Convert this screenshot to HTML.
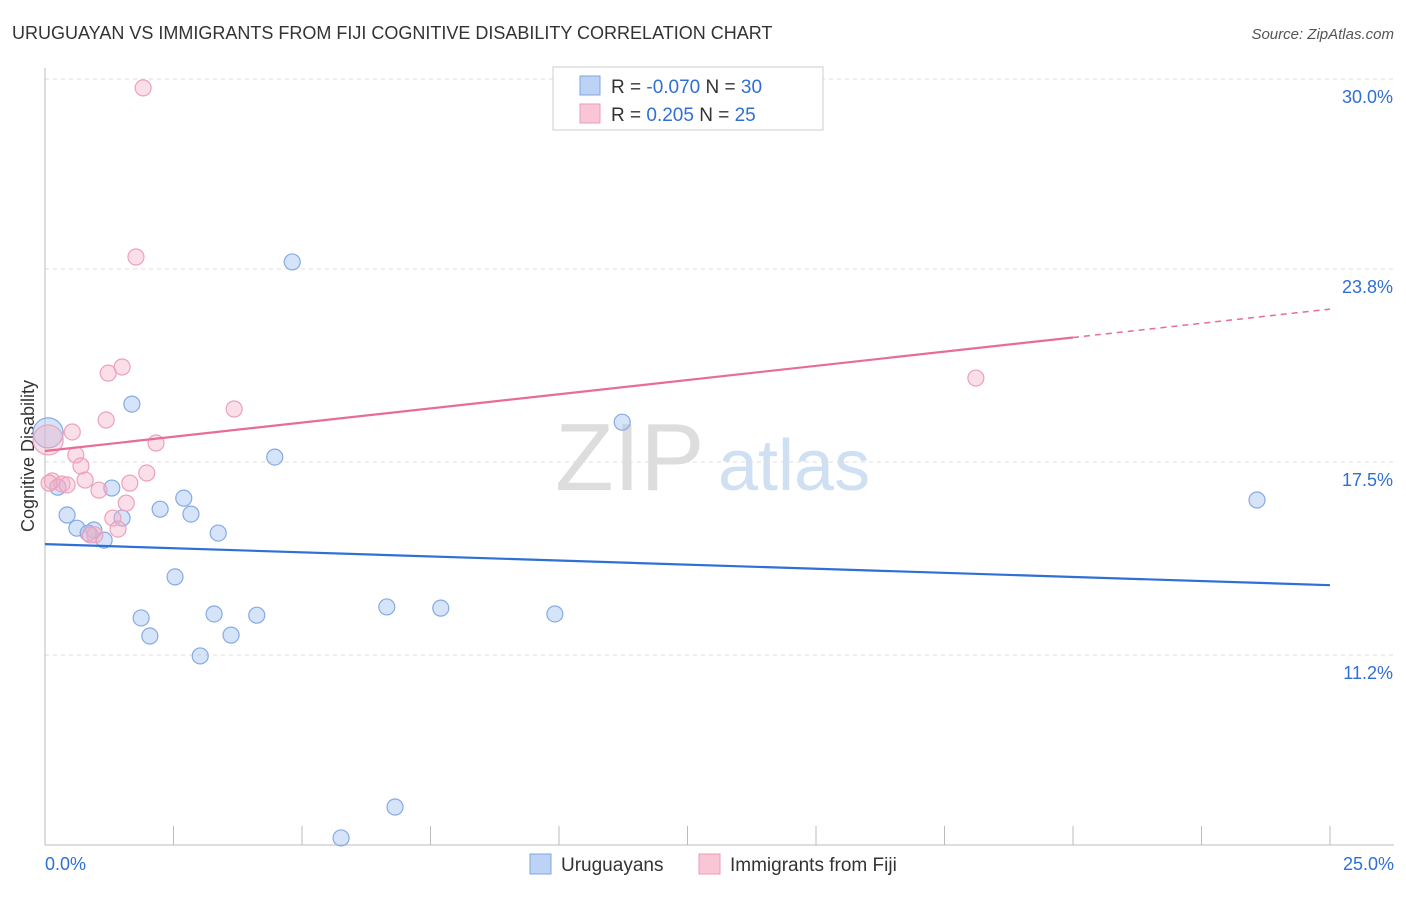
<!DOCTYPE html>
<html><head><meta charset="utf-8"><style>
body{margin:0;background:#fff;font-family:"Liberation Sans",sans-serif}
svg text{font-family:"Liberation Sans",sans-serif}
</style></head><body>
<svg id="c" width="1406" height="892">
<text x="12" y="39" font-size="18" fill="#333">URUGUAYAN VS IMMIGRANTS FROM FIJI COGNITIVE DISABILITY CORRELATION CHART</text>
<text x="1394" y="39" font-size="15" fill="#555" font-style="italic" text-anchor="end">Source: ZipAtlas.com</text>
<text x="555" y="490" font-size="96" fill="#ddd" font-family="Liberation Serif">ZIP</text>
<text x="718" y="490" font-size="72" fill="#cfe0f3">atlas</text>
<text transform="translate(34,456) rotate(-90)" font-size="18" fill="#333" text-anchor="middle">Cognitive Disability</text>
<g id="grid"></g><g id="marks"></g>
<g>
<rect x="553" y="67" width="270" height="63" fill="#fff" stroke="#ccc"/>
<rect x="580" y="76" width="20" height="19" fill="#bcd3f5" stroke="#7fa5e0"/>
<rect x="580" y="104" width="20" height="19" fill="#f9c6d6" stroke="#ee9ab5"/>
<text x="611" y="93" font-size="19" fill="#333">R = <tspan fill="#2f6fd6">-0.070</tspan>   N = <tspan fill="#2f6fd6">30</tspan></text>
<text x="611" y="121" font-size="19" fill="#333">R =   <tspan fill="#2f6fd6">0.205</tspan>   N =  <tspan fill="#2f6fd6">25</tspan></text>
</g>
<g>
<rect x="530" y="854" width="21" height="20" fill="#bcd3f5" stroke="#7fa5e0"/>
<text x="561" y="871" font-size="19" fill="#333">Uruguayans</text>
<rect x="699" y="854" width="21" height="20" fill="#f9c6d6" stroke="#ee9ab5"/>
<text x="730" y="871" font-size="19" fill="#333">Immigrants from Fiji</text>
</g>
</svg>
<script>
const yTicks=[30.0,23.8,17.5,11.2];
const yTickLabels=["30.0%","23.8%","17.5%","11.2%"];
const xTicks=[0,2.5,5,7.5,10,12.5,15,17.5,20,22.5,25];
const blueX=[0.06,0.25,0.43,0.62,0.95,1.15,1.30,1.50,1.69,1.87,2.04,2.24,2.53,2.70,2.84,3.02,3.29,3.37,3.62,4.12,4.47,4.81,6.65,7.70,9.92,11.23,23.58,6.81,5.76,0.84];
const blueY=[18.45,16.68,15.77,15.34,15.28,14.95,16.65,15.67,19.39,12.41,11.82,15.96,13.75,16.32,15.80,11.17,12.54,15.18,11.85,12.50,17.66,24.03,12.77,12.73,12.54,18.80,16.26,6.24,5.23,15.18];
const pinkX=[0.06,0.14,0.33,0.43,0.53,0.60,0.70,0.78,0.97,1.05,1.19,1.23,1.32,1.42,1.50,1.58,1.65,1.77,1.91,1.98,2.16,3.68,18.11,0.88,0.08];
const pinkY=[18.22,16.88,16.78,16.75,18.48,17.73,17.37,16.91,15.12,16.58,18.87,20.40,15.67,15.31,20.60,16.16,16.81,24.19,29.71,17.14,18.12,19.23,20.24,15.12,16.81];
const blueTrend=[14.82,13.48];
const pinkTrend=[17.86,22.49];
const pinkSolidEnd=20;
const X=v=>45+v/25*1285, Y=v=>79+(30-v)*30.64;
const NS="http://www.w3.org/2000/svg";
const grid=document.getElementById('grid'), marks=document.getElementById('marks');
function mk(tag,attrs,parent){const e=document.createElementNS(NS,tag);for(const k in attrs)e.setAttribute(k,attrs[k]);parent.appendChild(e);return e;}
yTicks.forEach((t,i)=>{
 const l=mk('line',{x1:45,x2:1394,y1:Y(t),y2:Y(t),stroke:'#ddd','stroke-dasharray':'4,4'},grid);
 
 
 const tx=mk('text',{x:1393,y:Y(t)+24,'font-size':18,fill:'#2f6fd6','text-anchor':'end'},grid);
 tx.textContent=yTickLabels[i];
 
 
});
const ax=mk('line',{x1:45,x2:1394,y1:845,y2:845,stroke:'#bbb'},grid);


const ay=mk('line',{x1:45,x2:45,y1:68,y2:845,stroke:'#bbb'},grid);


xTicks.forEach(t=>{const l=mk('line',{x1:X(t),x2:X(t),y1:826,y2:845,stroke:'#bbb'},grid);
 
 });
[[0,"0.0%","start",45],[25,"25.0%","end",1394]].forEach(a=>{const t=mk('text',{x:a[3],y:870,'font-size':18,fill:'#2f6fd6','text-anchor':a[2]},grid);t.textContent=a[1];
 
 });
function pts(xs,ys,fill,stroke,name){xs.forEach((x,i)=>{const big=(i===0);
 const c=mk('circle',{cx:X(x),cy:Y(ys[i]),r:big?15:8,fill:fill,stroke:stroke,'stroke-width':1.2},marks);
 
 });}
pts(blueX,blueY,'rgba(165,195,242,0.45)','#86aae3','uruguayan-point');
pts(pinkX,pinkY,'rgba(246,175,198,0.4)','#eea0ba','fiji-point');
const bl=mk('line',{x1:X(0),y1:Y(blueTrend[0]),x2:X(25),y2:Y(blueTrend[1]),stroke:'#2f6fd6','stroke-width':2.2},marks);


const pm=pinkTrend[0]+(pinkTrend[1]-pinkTrend[0])*pinkSolidEnd/25;
const pl=mk('line',{x1:X(0),y1:Y(pinkTrend[0]),x2:X(pinkSolidEnd),y2:Y(pm),stroke:'#e86c98','stroke-width':2.2},marks);


const pd=mk('line',{x1:X(pinkSolidEnd),y1:Y(pm),x2:X(25),y2:Y(pinkTrend[1]),stroke:'#e86c98','stroke-width':1.5,'stroke-dasharray':'6,5'},marks);


</script>
</body></html>
